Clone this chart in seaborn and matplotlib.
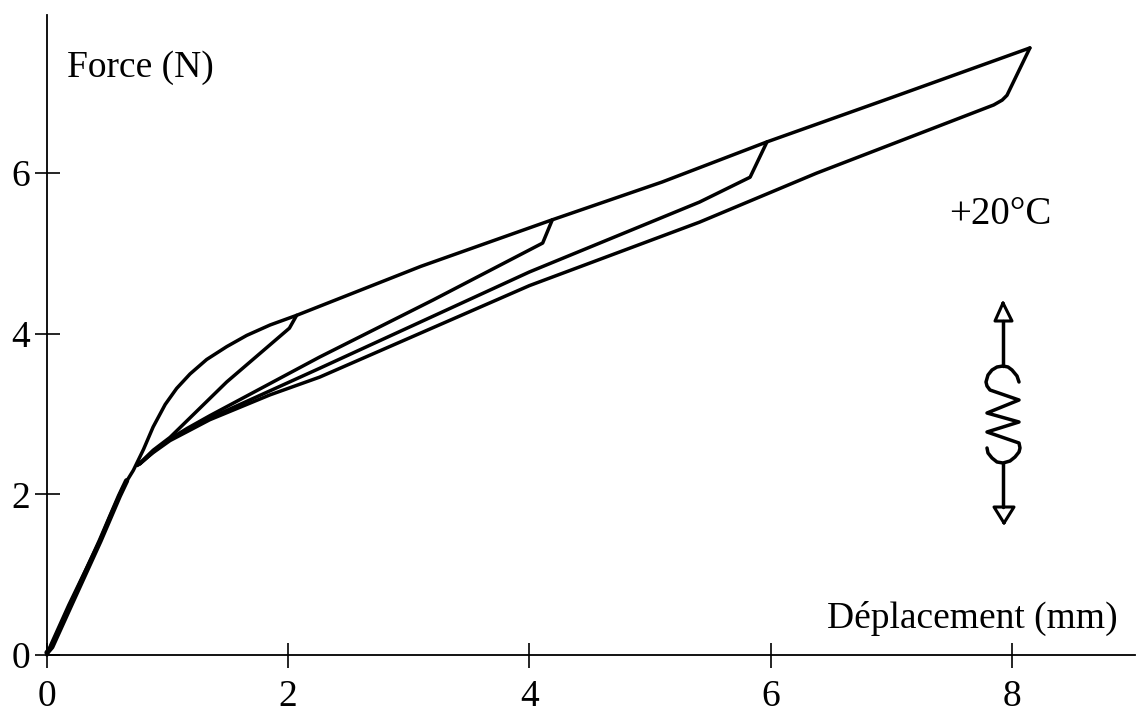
import pandas as pd
import numpy as np
import matplotlib.pyplot as plt
import matplotlib.transforms as mtrans
import seaborn as sns

sns.set_theme(style="white")
plt.rcParams['font.family'] = ['Liberation Serif', 'DejaVu Serif']

# loading curve, first from the origin then the upper envelope
load_x = [0.0, 0.03, 0.18, 0.44, 0.52, 0.63, 0.716, 0.80, 0.88, 0.98, 1.075, 1.186, 1.324, 1.49, 1.656, 1.85, 2.07, 3.1, 4.19, 5.1, 5.97, 7.0, 8.15]
load_y = [0.0, 0.12, 0.62, 1.43, 1.72, 2.09, 2.30, 2.56, 2.84, 3.12, 3.32, 3.50, 3.68, 3.84, 3.98, 4.11, 4.23, 4.84, 5.42, 5.89, 6.39, 6.94, 7.56]
# second pass over the start of the loading curve, it prints much heavier
start_x = [0.0, 0.04, 0.20, 0.44, 0.52, 0.60, 0.66]
start_y = [0.03, 0.10, 0.63, 1.42, 1.70, 1.98, 2.17]

unload2_x = [2.07, 2.01, 1.49, 1.02, 0.88, 0.77]
unload2_y = [4.23, 4.07, 3.40, 2.71, 2.55, 2.39]
unload4_x = [4.19, 4.11, 3.20, 2.26, 1.35, 1.16, 1.02, 0.88, 0.77]
unload4_y = [5.42, 5.13, 4.42, 3.71, 2.98, 2.82, 2.69, 2.53, 2.38]
unload6_x = [5.97, 5.83, 5.41, 4.00, 2.26, 1.35, 1.16, 1.02, 0.88, 0.77]
unload6_y = [6.39, 5.95, 5.64, 4.77, 3.57, 2.95, 2.80, 2.69, 2.53, 2.38]
unload8_x = [8.15, 7.96, 7.92, 7.85, 6.38, 5.41, 4.00, 2.26, 1.85, 1.35, 1.16, 1.02, 0.88, 0.75]
unload8_y = [7.56, 6.97, 6.91, 6.85, 6.00, 5.39, 4.60, 3.46, 3.24, 2.93, 2.78, 2.67, 2.52, 2.36]

x_ticks = [0, 2, 4, 6, 8]
y_ticks = [0, 2, 4, 6]

frames = []
for name, xs, ys in [("load", load_x, load_y), ("u2", unload2_x, unload2_y),
                     ("u4", unload4_x, unload4_y), ("u6", unload6_x, unload6_y),
                     ("u8", unload8_x, unload8_y)]:
    frames.append(pd.DataFrame({"cycle": name, "x": xs, "y": ys}))
curves = pd.concat(frames, ignore_index=True)
start = pd.DataFrame({"x": start_x, "y": start_y})

fig = plt.figure(figsize=(11.36, 7.16), dpi=100, facecolor="white")
ax = fig.add_axes([47 / 1136, (716 - 655) / 716, 1088 / 1136, 640 / 716])

sns.lineplot(data=curves, x="x", y="y", units="cycle", estimator=None, sort=False,
             color="black", linewidth=2.5, ax=ax, legend=False, clip_on=False)
sns.lineplot(data=start, x="x", y="y", sort=False, estimator=None,
             color="black", linewidth=3.8, ax=ax, legend=False, clip_on=False)

ax.set_xlim(0, 1088 / 120.6)
ax.set_ylim(0, 640 / 80.3)
ax.set_xticks(x_ticks)
ax.set_yticks(y_ticks)
ax.set_xlabel("")
ax.set_ylabel("")
ax.tick_params(axis="both", direction="inout", length=18, width=1.2, color="black",
               labelsize=27, labelcolor="black", bottom=True, left=True)
ax.tick_params(axis="x", pad=9)
ax.tick_params(axis="y", pad=3)
sns.despine(ax=ax)
for side in ["left", "bottom"]:
    ax.spines[side].set_linewidth(1.3)
    ax.spines[side].set_color("black")
ax.patch.set_alpha(0)

ax.text(0.166, 7.31, "Force (N)", fontsize=27, color="black", va="center", ha="left")
ax.text(8.88, 0.46, "Déplacement (mm)", fontsize=27, color="black", va="center", ha="right")
ax.text(7.48, 5.48, "+20°C", fontsize=28, color="black", va="center", ha="left")

# spring symbol, in image pixels
px = mtrans.Affine2D().scale(1, -1).translate(0, 716)
spring_x = [1019, 1017, 1012, 1008, 1003, 997, 992, 988, 986, 987, 990, 1019, 987, 1019, 987, 1019, 1020, 1019, 1015, 1010, 1003, 997, 992, 988, 987]
spring_y = [382, 376, 370, 367, 366, 367, 370, 375, 382, 386, 390, 400, 413, 422, 432, 443, 448, 452, 457, 461, 463, 462, 458, 453, 448]
ax.plot(spring_x, spring_y, color="black", lw=2.5, transform=px, clip_on=False)
ax.plot([1003, 1003], [321, 366], color="black", lw=2.5, transform=px, clip_on=False)
ax.plot([1003, 1003], [463, 507], color="black", lw=2.5, transform=px, clip_on=False)
ax.plot([1003, 995, 1012, 1003], [303, 321, 321, 303], color="black", lw=2.2, transform=px, clip_on=False)
ax.plot([1004, 994, 1014, 1004], [523, 507, 507, 523], color="black", lw=2.2, transform=px, clip_on=False)

fig.savefig("out.png", dpi=100)
